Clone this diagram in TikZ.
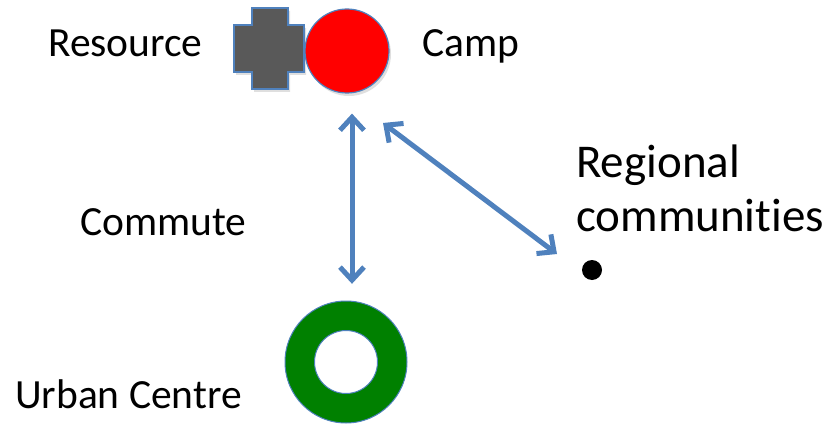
\documentclass[tikz,border=0pt]{standalone}
\usepackage{fontspec}
\setmainfont[Ligatures=NoCommon]{Carlito}
\usepackage{tikz}
\usetikzlibrary{arrows.meta,shapes,positioning,shadows}
\definecolor{edgeblue}{HTML}{4F81BD}
\definecolor{crossgray}{HTML}{595959}
\definecolor{ringgreen}{HTML}{008000}
\begin{document}
\begin{tikzpicture}[x=1pt,y=-1pt]
                \tikzstyle{every node}+=[inner sep=0pt]
                \tikzstyle{label}=[anchor=base west,font=\fontsize{41.5}{49}\selectfont]
                \tikzstyle{biglabel}=[anchor=base west,font=\fontsize{47}{54}\selectfont]
                \tikzstyle{link}=[edgeblue,line width=5pt,{Straight Barb[length=13pt,width=24pt]}-{Straight Barb[length=13pt,width=24pt]}]
                \tikzstyle{shade}=[drop shadow={opacity=0.25,shadow xshift=2pt,shadow yshift=-3pt}]
                \useasboundingbox (0,0) rectangle (836,428);
                \filldraw [fill=crossgray, draw=edgeblue, line width=1.2pt, shade] (252,8) -- (288,8) -- (288,25) -- (304,25) -- (304,72) -- (288,72) -- (288,89) -- (252,89) -- (252,72) -- (234,72) -- (234,25) -- (252,25) -- cycle;
                \node [circle, minimum size=84pt, fill=red, draw=edgeblue, line width=1.2pt, shade] (camp) at (347,51) {};
                \node [circle, minimum size=122pt] (urban) at (346,362) {};
                \filldraw [fill=ringgreen, draw=edgeblue, line width=1pt, even odd rule] (urban.center) circle (61pt) (urban.center) circle (31.5pt);
                \node [circle, minimum size=20pt, fill=black] (region) at (592,270) {};
                \node [label] (resource) at (48,57) {Resource};
                \node [label] (camptext) at (422,57) {Camp};
                \node [label] (commute) at (80,235) {Commute};
                \node [label] (urbantext) at (15,408) {Urban Centre};
                \node [biglabel] (regional) at (576,177) {Regional};
                \node [biglabel] (communities) at (576,231) {communities};
                \draw [link] ([shift={(5,20)}]camp.south) -- ([shift={(6,-17)}]urban.north);
                \draw [link] ([shift={(36,72)}]camp.center) -- ([shift={(-35,-16)}]region.center);
\end{tikzpicture}
\end{document}
